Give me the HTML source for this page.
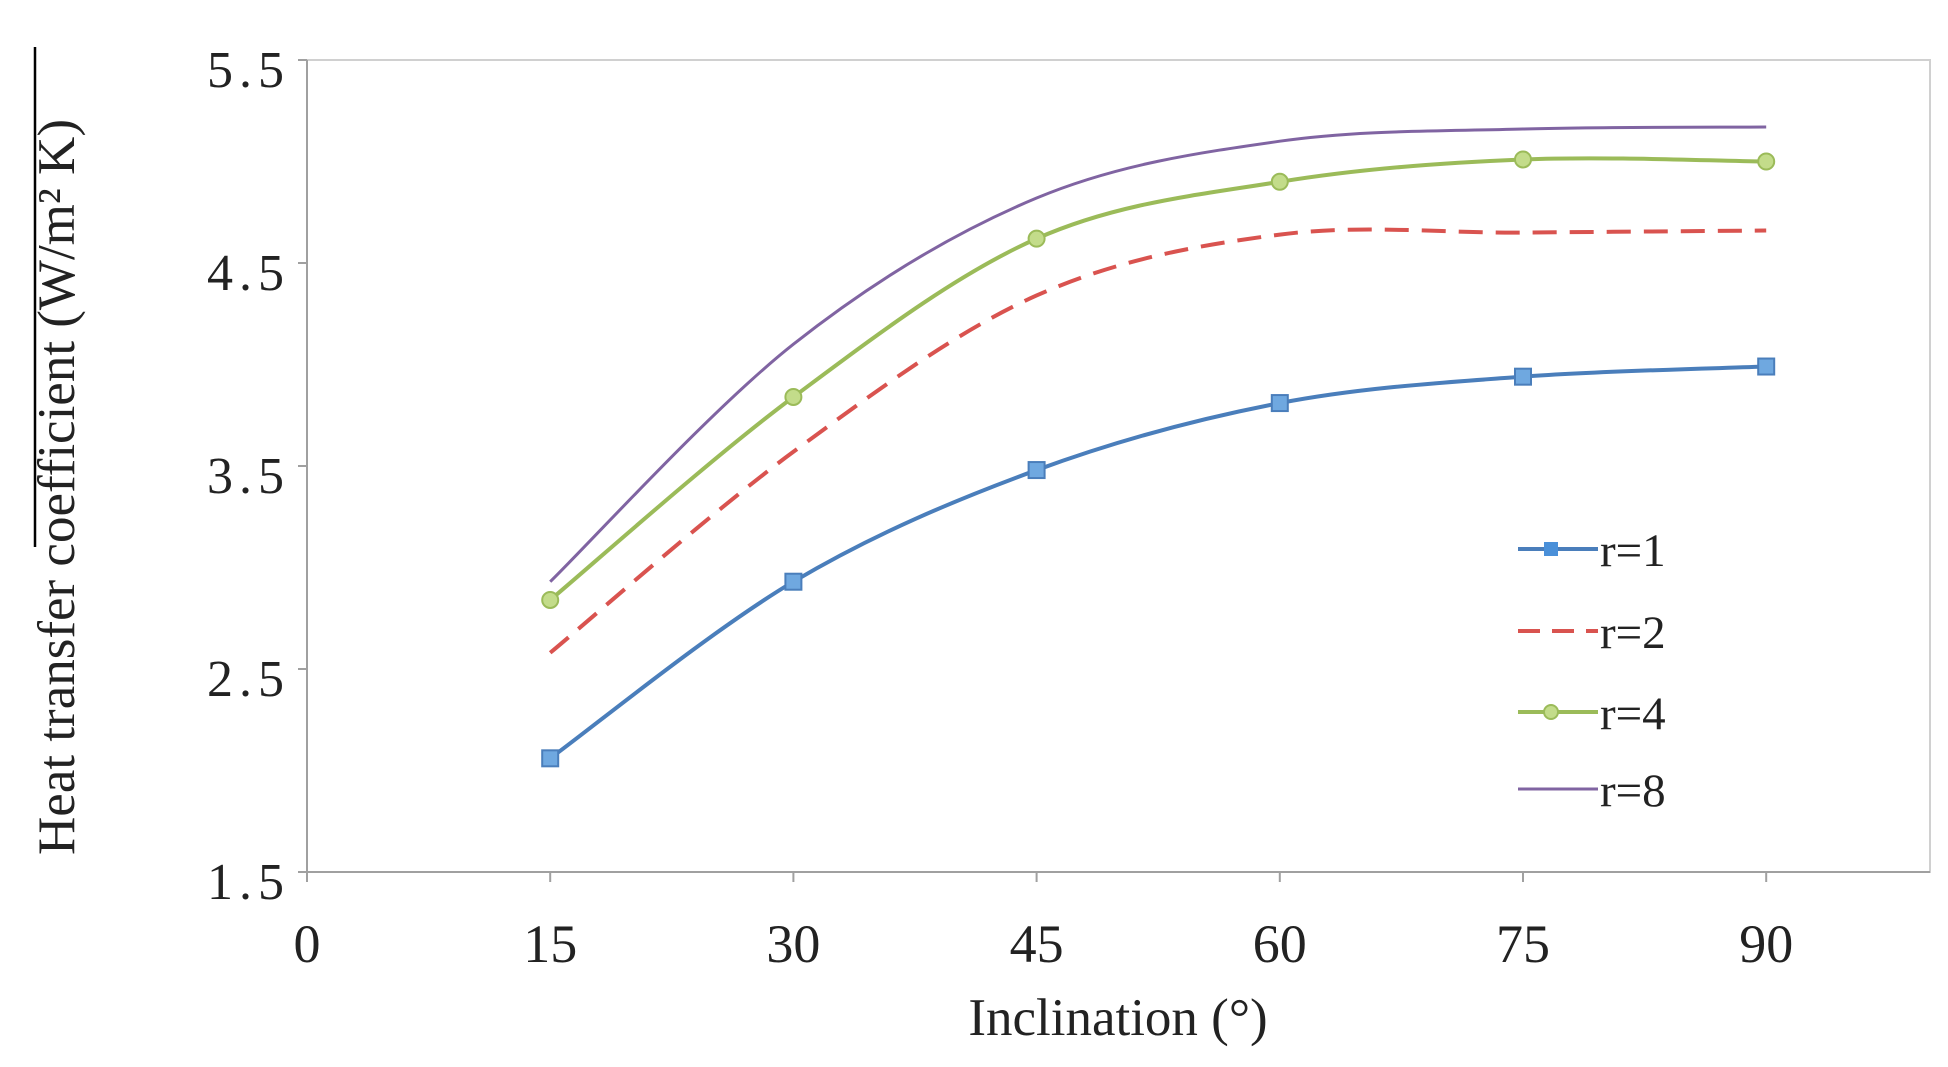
<!DOCTYPE html>
<html><head><meta charset="utf-8"><style>
html,body{margin:0;padding:0;background:#fff;}
svg{display:block;font-family:"Liberation Serif",serif;}
</style></head><body>
<svg id="s" width="1948" height="1067" viewBox="0 0 1948 1067" xmlns="http://www.w3.org/2000/svg">
<rect x="0" y="0" width="1948" height="1067" fill="#fff"/>
<rect x="307" y="60" width="1623" height="812" fill="none" stroke="#d0d0d0" stroke-width="2"/>
<line x1="307" y1="60" x2="307" y2="880" stroke="#a0a0a0" stroke-width="2"/>
<line x1="298" y1="872" x2="1930" y2="872" stroke="#a0a0a0" stroke-width="2"/>
<g stroke="#a0a0a0" stroke-width="2" id="ticks"></g>
<line x1="35" y1="47" x2="35" y2="547" stroke="#000" stroke-width="2.5"/>
<g font-size="52" fill="#222" text-anchor="end" letter-spacing="6">
<text x="290" y="87">5.5</text>
<text x="290" y="290">4.5</text>
<text x="290" y="493">3.5</text>
<text x="290" y="696">2.5</text>
<text x="290" y="899">1.5</text>
</g>
<g font-size="54" fill="#222" text-anchor="middle" id="xl"></g>
<text x="1118" y="1035" font-size="53" fill="#222" text-anchor="middle">Inclination (°)</text>
<text transform="translate(74,487) rotate(-90)" font-size="53" fill="#222" text-anchor="middle">Heat transfer coefficient (W/m² K)</text>
<g id="series"></g>
<g font-size="47" fill="#222">
<line x1="1518" y1="549" x2="1598" y2="549" stroke="#4a7ebb" stroke-width="4"/><rect x="1544" y="542" width="14" height="14" fill="#4a90d9"/>
<text x="1600" y="566">r=1</text>
<line x1="1518" y1="631" x2="1598" y2="631" stroke="#d9534f" stroke-width="4" stroke-dasharray="22,12"/>
<text x="1600" y="648">r=2</text>
<line x1="1518" y1="712" x2="1598" y2="712" stroke="#9bbb59" stroke-width="4"/><circle cx="1551" cy="712" r="7" fill="#c3dc8a" stroke="#9bbb59" stroke-width="2"/>
<text x="1600" y="729">r=4</text>
<line x1="1518" y1="789" x2="1598" y2="789" stroke="#8064a2" stroke-width="3"/>
<text x="1600" y="806">r=8</text>
</g>
</svg>
<script>
var X=function(v){return 307+v/15*243.2;},Y=function(v){return 872-(v-1.5)*203;};
var ns="http://www.w3.org/2000/svg";
var t=document.getElementById('ticks'),xl=document.getElementById('xl');
for(var i=0;i<=6;i++){var x=X(i*15);var l=document.createElementNS(ns,'line');l.setAttribute('x1',x);l.setAttribute('x2',x);l.setAttribute('y1',872);l.setAttribute('y2',882);t.appendChild(l);
var tx=document.createElementNS(ns,'text');tx.setAttribute('x',x);tx.setAttribute('y',962);tx.textContent=i*15;xl.appendChild(tx);}
for(var j=0;j<5;j++){var y=60+j*203;var l2=document.createElementNS(ns,'line');l2.setAttribute('x1',298);l2.setAttribute('x2',307);l2.setAttribute('y1',y);l2.setAttribute('y2',y);t.appendChild(l2);}
var xs=[15,30,45,60,75,90];
var S=[
{d:[2.06,2.93,3.48,3.81,3.94,3.99],c:"#4a7ebb",w:4,m:"sq",mf:"#6fa8e0"},
{d:[2.58,3.57,4.34,4.64,4.65,4.66],c:"#d9534f",w:4,dash:"24,13"},
{d:[2.84,3.84,4.62,4.90,5.01,5.00],c:"#9bbb59",w:4,m:"ci",mf:"#c3dc8a"},
{d:[2.93,4.10,4.82,5.10,5.16,5.17],c:"#8064a2",w:3}];
var g=document.getElementById('series');
S.forEach(function(s){var p=xs.map(function(x,i){return [X(x),Y(s.d[i])];});
var d="M"+p[0][0]+","+p[0][1];
for(var i=0;i<p.length-1;i++){var p0=p[i-1]||p[i],p1=p[i],p2=p[i+1],p3=p[i+2]||p[i+1],k=0.5/3;
d+=" C"+(p1[0]+(p2[0]-p0[0])*k)+","+(p1[1]+(p2[1]-p0[1])*k)+" "+(p2[0]-(p3[0]-p1[0])*k)+","+(p2[1]-(p3[1]-p1[1])*k)+" "+p2[0]+","+p2[1];}
var pa=document.createElementNS(ns,'path');pa.setAttribute('d',d);pa.setAttribute('fill','none');pa.setAttribute('stroke',s.c);pa.setAttribute('stroke-width',s.w);if(s.dash)pa.setAttribute('stroke-dasharray',s.dash);g.appendChild(pa);
if(s.m)p.forEach(function(q){var e;if(s.m=="sq"){e=document.createElementNS(ns,'rect');e.setAttribute('x',q[0]-8);e.setAttribute('y',q[1]-8);e.setAttribute('width',16);e.setAttribute('height',16);}else{e=document.createElementNS(ns,'circle');e.setAttribute('cx',q[0]);e.setAttribute('cy',q[1]);e.setAttribute('r',8);}
e.setAttribute('fill',s.mf);e.setAttribute('stroke',s.c);e.setAttribute('stroke-width',2);g.appendChild(e);});});
</script>
</body></html>
